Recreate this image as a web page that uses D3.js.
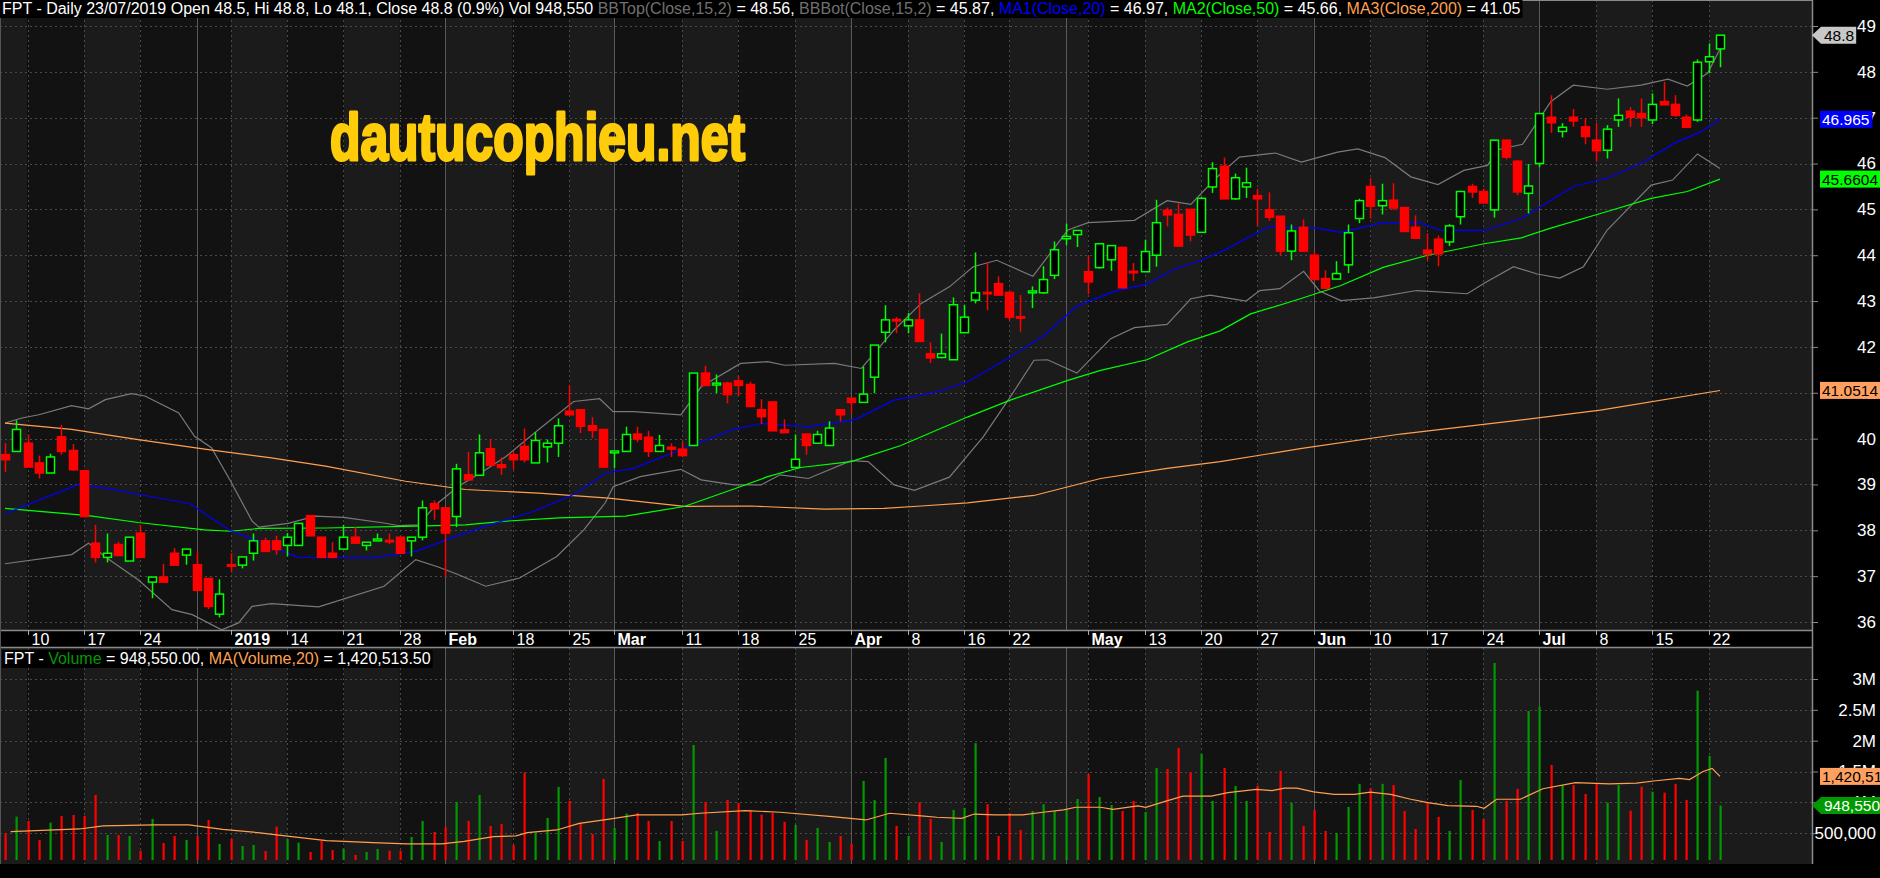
<!DOCTYPE html>
<html>
<head>
<meta charset="utf-8">
<script src="https://cdn.jsdelivr.net/npm/d3@7"></script>
<style>
  html, body { margin: 0; padding: 0; background: #000; }
  svg { display: block; }
  text { font-family: "Liberation Sans Narrow", "Arial Narrow", "Liberation Sans", sans-serif; }
</style>
</head>
<body>
<svg id="chart" width="1880" height="878"></svg>
<script>
// OHLC, one entry per trading day (Dec 2018 - 23 Jul 2019)
const opens = [39.65,39.72,39.9,39.47,39.25,40.04,39.74,39.3,37.72,37.41,37.69,37.33,37.94,36.87,36.98,37.5,37.46,37.25,36.95,36.17,
  37.25,37.24,37.5,37.77,37.77,37.67,37.67,38.32,37.85,37.5,37.59,37.85,37.67,37.77,37.78,37.85,37.77,37.85,38.58,38.49,
  38.3,39.21,39.2,39.78,39.43,39.65,39.83,39.47,39.82,39.9,40.6,40.63,40.28,40.2,39.69,39.72,40.1,40.03,39.72,39.81,
  39.77,39.85,41.43,41.17,41.21,41.26,41.18,40.63,40.8,40.19,39.37,40.1,39.9,39.85,40.63,40.88,40.79,41.34,42.32,42.6,
  42.46,42.59,41.85,41.77,41.72,42.31,43.02,43.19,43.38,43.19,42.66,43.18,43.18,43.56,44.36,44.45,43.64,43.73,43.9,44.17,
  43.65,43.64,44.0,44.98,44.89,45.0,44.5,45.49,45.94,45.23,45.49,45.3,44.99,44.85,44.09,44.61,44.0,43.49,43.48,43.79,
  44.8,45.5,45.08,45.2,45.04,44.61,44.11,44.35,44.29,44.84,45.5,45.39,44.99,46.51,46.05,45.35,46.0,47.01,46.7,47.01,
  46.8,46.51,46.29,46.95,47.14,47.09,46.95,47.35,47.29,47.01,46.95,48.22,48.5]
const highs = [39.9,40.4,40.09,39.63,39.67,40.3,39.88,39.3,38.12,37.93,37.75,37.85,38.12,36.98,37.27,37.61,37.59,37.54,36.95,36.93,
  37.5,37.42,37.93,37.84,37.88,37.94,38.15,38.32,37.85,37.74,38.12,38.07,37.74,37.93,37.93,37.85,37.85,38.65,38.65,38.49,
  39.45,39.71,40.09,39.99,39.59,39.72,40.22,40.14,39.98,40.44,41.16,40.63,40.47,40.2,39.73,40.26,40.26,40.17,40.08,39.9,
  39.93,41.43,41.59,41.4,41.24,41.37,41.24,40.86,40.8,40.42,40.09,40.1,40.17,40.38,40.63,40.88,41.57,42.04,42.91,42.65,
  42.74,43.17,42.1,42.29,43.08,42.92,44.06,43.85,43.54,43.19,43.13,43.32,43.76,44.3,44.69,44.54,43.99,44.25,44.21,44.19,
  43.83,44.34,45.21,45.04,45.13,45.0,45.27,46.03,46.13,45.78,45.91,45.45,45.37,44.85,44.67,44.78,44.08,43.67,43.87,44.67,
  45.23,45.68,45.56,45.57,45.05,44.87,44.48,44.43,44.68,45.39,45.56,45.45,46.52,46.51,46.07,45.99,47.09,47.49,46.88,47.19,
  46.99,46.89,46.84,47.42,47.23,47.42,47.53,47.78,47.49,47.07,48.27,48.62,48.8]
const lows = [39.27,39.72,39.38,39.13,39.25,39.65,39.3,38.3,37.3,37.3,37.45,37.33,37.41,36.52,36.87,37.24,37.25,36.69,36.28,36.1,
  37.08,37.17,37.34,37.54,37.47,37.43,37.67,37.88,37.41,37.41,37.59,37.72,37.56,37.77,37.7,37.5,37.43,37.78,38.23,36.99,
  38.07,39.1,39.2,39.42,39.21,39.32,39.48,39.47,39.48,39.6,40.52,40.12,40.01,39.38,39.36,39.72,39.92,39.6,39.72,39.6,
  39.6,39.85,41.16,40.99,40.77,40.93,40.7,40.32,40.17,40.13,39.37,39.65,39.9,39.85,40.37,40.55,40.79,40.99,42.1,42.3,
  42.3,42.12,41.65,41.75,41.72,42.31,42.95,42.8,43.13,42.58,42.33,42.85,43.16,43.48,44.22,44.18,43.15,43.71,43.66,43.29,
  43.44,43.64,43.75,44.63,44.2,44.3,44.5,45.36,45.23,45.21,45.25,44.65,44.75,44.0,43.89,44.09,43.47,43.27,43.48,43.61,
  44.7,44.8,44.89,44.99,44.5,44.37,43.89,43.76,44.2,44.67,45.25,45.14,44.82,46.09,45.31,44.91,45.92,46.67,46.57,46.8,
  46.42,46.06,46.11,46.8,46.8,46.8,46.86,47.27,47.02,46.79,46.91,47.97,48.1]
const closes = [39.54,40.2,39.38,39.25,39.6,39.72,39.32,38.3,37.41,37.5,37.45,37.85,37.41,36.98,36.87,37.24,37.59,36.69,36.34,36.61,
  37.24,37.42,37.77,37.54,37.58,37.85,38.15,37.88,37.41,37.41,37.85,37.72,37.74,37.81,37.76,37.5,37.85,38.49,38.47,37.94,
  39.34,39.1,39.69,39.42,39.37,39.54,39.54,39.96,39.9,40.28,40.52,40.27,40.18,39.38,39.73,40.09,39.99,39.72,39.85,39.77,
  39.63,41.43,41.16,41.21,40.96,41.16,40.7,40.48,40.17,40.13,39.55,39.85,40.09,40.23,40.52,40.79,40.97,42.04,42.59,42.58,
  42.59,42.12,41.76,41.85,42.92,42.65,43.18,43.17,43.13,42.65,42.64,43.22,43.47,44.12,44.41,44.54,43.42,44.25,44.21,43.29,
  43.63,44.08,44.71,44.88,44.2,44.44,45.24,45.89,45.23,45.69,45.58,45.23,44.83,44.09,44.53,44.09,43.47,43.28,43.6,44.49,
  45.19,45.07,45.19,45.03,44.52,44.37,44.03,44.03,44.64,45.39,45.38,45.14,46.51,46.14,45.38,45.51,47.09,46.89,46.79,46.93,
  46.59,46.28,46.75,47.05,47.01,47.0,47.29,47.28,47.05,46.79,48.21,48.33,48.8]
// volume, millions of shares
const volumes = [0.497,0.768,0.698,0.39,0.671,0.779,0.795,0.779,1.12,0.47,0.47,0.455,0.216,0.73,0.341,0.455,0.39,0.455,0.714,0.325,
  0.406,0.292,0.308,0.211,0.606,0.406,0.346,0.195,0.373,0.227,0.249,0.146,0.195,0.244,0.216,0.216,0.438,0.698,0.52,0.595,
  1.006,0.698,1.12,0.617,0.649,0.308,1.482,0.509,0.747,1.25,1.023,0.666,0.487,1.38,0.584,0.817,0.828,0.698,0.373,0.698,
  0.373,1.93,1.006,0.536,1.039,0.99,0.877,0.801,0.828,0.682,0.633,0.39,0.584,0.357,0.455,0.325,1.347,1.039,1.72,0.617,
  0.455,1.0,0.73,0.357,0.877,0.91,1.96,0.97,0.455,0.828,0.552,0.86,0.97,0.86,0.887,1.055,1.46,1.087,0.957,0.86,
  1.023,0.844,1.558,1.54,1.88,1.49,1.786,1.023,1.558,1.266,1.023,1.266,0.52,1.51,0.99,0.617,0.877,0.536,0.504,0.926,
  1.3,1.23,1.3,1.28,0.86,0.568,1.006,0.763,0.536,1.36,0.877,0.73,3.26,1.023,1.217,2.48,2.55,1.607,1.28,1.28,
  1.136,1.31,0.995,1.28,0.866,1.254,1.173,1.157,1.3,1.04,2.81,1.753,0.949]

// indicator lines read at sample bars: [bar, value]
const ma20 = [[0,38.36],[6.5,39.0],[9,38.92],[12.4,38.76],[16.4,38.58],[20,37.99],[22.5,37.76],[26,37.41],[32.5,37.4],[36.4,37.54],
  [40.2,37.89],[42.6,38.09],[46.8,38.41],[50.4,38.78],[53.3,39.25],[55.7,39.35],[60.2,39.79],[64.6,40.2],[67,40.33],[71.2,40.26],
  [75.3,40.41],[78.8,40.84],[81.2,40.95],[83,41.05],[85.3,41.24],[89.1,41.78],[92.1,42.25],[95,42.89],[98.3,43.21],[101.2,43.37],
  [103.6,43.69],[106,43.89],[108,44.1],[111.9,44.61],[116.3,44.59],[118.4,44.5],[121.9,44.7],[125.2,44.72],[127.3,44.54],
  [131.1,44.54],[134.4,44.8],[137,45.2],[139.1,45.51],[142,45.68],[145,46.0],[148,46.45],[150.3,46.69],[152,46.965]]
const ma50 = [[0,38.48],[7.4,38.32],[11.8,38.17],[17.7,38.01],[20,37.98],[22.5,38.04],[28.4,38.05],[36.4,38.09],[40.8,38.12],
  [44.4,38.2],[49.1,38.27],[55,38.31],[60.2,38.52],[64.6,38.9],[67.6,39.17],[70.5,39.37],[75,39.5],[79.4,39.85],[85.3,40.47],
  [89.1,40.84],[94.2,41.27],[97.1,41.49],[101.2,41.72],[104.8,42.11],[107.7,42.35],[110.4,42.72],[114.8,43.05],[118.4,43.34],
  [122.2,43.74],[126.1,44.0],[131.1,44.25],[134.4,44.38],[137,44.59],[141.4,44.91],[145.9,45.24],[149.1,45.39],[152,45.66]]
const ma200 = [[0,40.34],[5.9,40.2],[11.8,39.98],[17.7,39.77],[23.6,39.58],[28.4,39.4],[35.5,39.07],[40.8,38.89],[47.3,38.81],
  [53.5,38.7],[60.2,38.52],[66.1,38.53],[72.6,38.46],[77.9,38.48],[81.2,38.53],[85.3,38.6],[91.2,38.76],[97.1,39.13],
  [103,39.35],[107.7,39.5],[114.8,39.78],[123.7,40.1],[133.5,40.38],[141.4,40.62],[152,41.05]]
const bbTop = [[0,40.34],[1.5,40.45],[3,40.52],[5.9,40.72],[7.4,40.65],[8.9,40.85],[11.2,40.98],[12.4,40.93],[15.4,40.56],
  [16.8,40.05],[18.3,39.8],[20,39.07],[21.9,38.2],[22.5,38.07],[25.1,38.15],[27.5,38.31],[30,38.28],[33.6,38.16],[34.9,38.1],
  [36.6,38.12],[38.4,38.6],[40.2,38.96],[42.6,39.32],[44.4,39.61],[47.3,40.2],[50.4,40.81],[52.7,40.87],[53.9,40.59],
  [55.7,40.59],[59.9,40.52],[61.7,41.13],[65.2,41.64],[67.6,41.68],[69.1,41.6],[73.5,41.64],[75.9,41.53],[78.8,42.37],
  [81.2,42.95],[83.7,43.31],[85.8,43.75],[87.9,43.89],[91.1,43.54],[94.2,44.55],[96,44.71],[100.1,44.76],[103,45.19],
  [105.1,45.11],[107.4,45.7],[109.4,46.14],[112.6,46.23],[114.9,46.03],[118.1,46.25],[119.9,46.32],[122.3,46.13],
  [124.6,45.71],[127,45.54],[129.3,45.85],[131.4,45.96],[132.3,46.3],[134.5,46.42],[137,47.35],[139,47.71],[142,47.62],
  [145,47.71],[147.4,47.84],[149.1,47.69],[150.9,47.97],[152,48.5]]
const bbBot = [[0,37.27],[5.9,37.47],[7.4,37.72],[8.9,37.42],[11.8,36.92],[14.8,36.27],[16.6,36.16],[19.2,35.83],[20.7,35.98],
  [21.9,36.34],[23.6,36.4],[27.8,36.33],[33.6,36.78],[36.4,37.36],[38.4,37.2],[40.2,37.03],[42.6,36.78],[45.6,36.96],
  [48.9,37.43],[51.3,38.01],[53.2,38.6],[53.9,38.95],[56.3,39.17],[59.9,39.33],[61.7,39.1],[64.6,38.99],[67,38.99],
  [68.7,39.21],[71.2,39.13],[75,39.52],[76.5,39.5],[78.8,38.99],[80.6,38.87],[83.7,39.16],[86.7,40.04],[89.1,40.91],
  [91.2,41.71],[92.4,41.72],[95,41.43],[98,42.18],[100.1,42.42],[103,42.49],[105.1,43.05],[106.8,43.13],[110,43.0],
  [111.2,43.23],[113,43.27],[115.1,43.65],[116.5,43.22],[118.4,43.01],[121.3,43.07],[125.1,43.23],[129.6,43.16],
  [131.1,43.39],[133.7,43.75],[135.8,43.59],[137.8,43.5],[139.9,43.75],[142,44.55],[145.9,45.53],[147.8,45.64],
  [150,46.21],[152,45.89]]
const volMa = [[0.5,0.525],[6.6,0.568],[8.7,0.617],[13.2,0.633],[16.3,0.633],[19.3,0.563],[22.4,0.509],[25.4,0.444],
  [28.5,0.379],[32.6,0.346],[35.6,0.325],[38.7,0.325],[40.7,0.368],[43.3,0.444],[45.3,0.455],[46.3,0.509],[48.9,0.552],
  [50.9,0.66],[53.4,0.725],[56,0.796],[60,0.796],[61.6,0.823],[65.6,0.866],[68.7,0.839],[73.3,0.769],[76.3,0.714],
  [78.4,0.823],[81.2,0.78],[82.6,0.758],[84.8,0.74],[85.9,0.81],[87.7,0.796],[90.2,0.796],[92,0.839],[93.8,0.877],
  [94.9,0.92],[97.1,0.92],[98.2,0.887],[100.4,0.942],[101.1,0.92],[102.9,1.02],[104.4,1.1],[106.9,1.1],[108.4,1.157],
  [110.9,1.21],[112.3,1.19],[113.4,1.23],[114.5,1.23],[116,1.17],[117.8,1.13],[119.6,1.13],[121,1.165],[122.8,1.13],
  [124.6,1.05],[126.1,0.996],[127.9,0.947],[130.4,0.936],[131.1,0.904],[132.2,1.05],[134.3,1.05],[136.3,1.22],
  [139.2,1.32],[142.2,1.3],[144.6,1.31],[146.3,1.35],[148.4,1.39],[149.3,1.37],[150.5,1.5],[151.3,1.55],[152,1.42]]

// date axis: label, bar index, bold for month names
const dateTicks = [['10',2],['17',7],['24',12],['2019',20,1],['14',25],['21',30],['28',35],['Feb',39,1],['18',45],['25',50],
  ['Mar',54,1],['11',60],['18',65],['25',70],['Apr',75,1],['8',80],['16',85],['22',89],['May',96,1],['13',101],['20',106],
  ['27',111],['Jun',116,1],['10',121],['17',126],['24',131],['Jul',136,1],['8',141],['15',146],['22',151]]
const monthStarts = [17, 39, 54, 75, 94, 116, 136]
const priceTicks = [36,37,38,39,40,41,42,43,44,45,46,47,48,49]
const volTicks = [[0.5,'500,000'],[1,'1M'],[1.5,'1.5M'],[2,'2M'],[2.5,'2.5M'],[3,'3M']]

const W = 1880, PR = 1812
const svg = d3.select('#chart')
const x = d3.scaleLinear().domain([0, 152]).range([5, 1720])
const y = d3.scaleLinear().domain([36, 49]).range([622, 26])
const yv = d3.scaleLinear().domain([0, 3]).range([864, 679])
const PT = 0, PB = 630, VT = 648, VB = 864

svg.append('rect').attr('width', W).attr('height', 878).attr('fill', '#000')

// weekly shaded bands in both panels
const edges = [0].concat(dateTicks.map(d => x(d[1]))).concat([PR])
const bands = svg.append('g')
for (let k = 0; k < edges.length - 1; k++) {
    const fill = (k % 2 === 0) ? '#1b1b1b' : '#121212'
    bands.append('rect').attr('x', edges[k]).attr('width', edges[k + 1] - edges[k])
        .attr('y', PT).attr('height', PB - PT).attr('fill', fill)
    bands.append('rect').attr('x', edges[k]).attr('width', edges[k + 1] - edges[k])
        .attr('y', VT).attr('height', VB - VT).attr('fill', fill)
}

// grid
const grid = svg.append('g').attr('stroke-width', 1)
grid.selectAll('.hp').data(priceTicks).enter().append('line')
    .attr('x1', 0).attr('x2', PR).attr('y1', d => Math.round(y(d)) + 0.5).attr('y2', d => Math.round(y(d)) + 0.5)
    .attr('stroke', '#4a4a4a').attr('stroke-dasharray', '2,3')
grid.selectAll('.hv').data(volTicks).enter().append('line')
    .attr('x1', 0).attr('x2', PR).attr('y1', d => Math.round(yv(d[0])) + 0.5).attr('y2', d => Math.round(yv(d[0])) + 0.5)
    .attr('stroke', '#4a4a4a').attr('stroke-dasharray', '2,3')
dateTicks.forEach(d => {
    const xx = Math.round(x(d[1])) + 0.5
    ;[[PT, PB], [VT, VB]].forEach(([a, b]) => grid.append('line').attr('x1', xx).attr('x2', xx).attr('y1', a).attr('y2', b)
        .attr('stroke', '#4a4a4a').attr('stroke-dasharray', '2,3'))
})
monthStarts.forEach(i => {
    const xx = Math.round(x(i)) + 0.5
    ;[[PT, PB], [VT, VB]].forEach(([a, b]) => grid.append('line').attr('x1', xx).attr('x2', xx).attr('y1', a).attr('y2', b)
        .attr('stroke', '#5a5a5a'))
})

// watermark
svg.append('text').attr('x', 330).attr('y', 160).attr('fill', '#ffcc0a')
    .attr('stroke', '#ffcc0a').attr('stroke-width', 3).attr('stroke-linejoin', 'round')
    .attr('font-size', 66).attr('font-weight', 'bold').attr('textLength', 415)
    .attr('lengthAdjust', 'spacingAndGlyphs').text('dautucophieu.net')

// indicator lines
const line = d3.line().x(d => x(d[0])).y(d => y(d[1]))
const lines = svg.append('g').attr('fill', 'none').attr('stroke-width', 1.2)
lines.append('path').attr('d', line(bbTop)).attr('stroke', '#7a7a7a')
lines.append('path').attr('d', line(bbBot)).attr('stroke', '#7a7a7a')
lines.append('path').attr('d', line(ma200)).attr('stroke', '#ffa050')
lines.append('path').attr('d', line(ma50)).attr('stroke', '#00ff00')
lines.append('path').attr('d', line(ma20)).attr('stroke', '#0000ff')

// candles
const bars = d3.range(closes.length)
const up = i => closes[i] >= opens[i]
const cg = svg.append('g').selectAll('g').data(bars).enter().append('g')
cg.append('line').attr('x1', i => Math.round(x(i)) + 0.5).attr('x2', i => Math.round(x(i)) + 0.5)
    .attr('y1', i => y(highs[i])).attr('y2', i => y(lows[i]))
    .attr('stroke', i => up(i) ? '#00ff00' : '#ff0000').attr('stroke-width', 1.5)
cg.append('rect')
    .attr('x', i => Math.round(x(i)) - 3.5)
    .attr('width', 8)
    .attr('y', i => y(Math.max(opens[i], closes[i])))
    .attr('height', i => Math.max(1.5, y(Math.min(opens[i], closes[i])) - y(Math.max(opens[i], closes[i]))))
    .attr('fill', i => up(i) ? '#000' : '#ff0000')
    .attr('stroke', i => up(i) ? '#00ff00' : '#ff0000').attr('stroke-width', 1.5)

// volume bars
svg.append('g').selectAll('rect').data(bars).enter().append('rect')
    .attr('x', i => Math.round(x(i)) - 0.5).attr('width', 2.2)
    .attr('y', i => yv(volumes[i])).attr('height', i => VB - 4 - yv(volumes[i]))
    .attr('fill', i => up(i) ? '#009a00' : '#ff0000')
svg.append('path').attr('d', d3.line().x(d => x(d[0])).y(d => yv(d[1]))(volMa))
    .attr('fill', 'none').attr('stroke', '#ffa050').attr('stroke-width', 1.2)

// date axis band
svg.append('rect').attr('x', 0).attr('y', PB).attr('width', PR).attr('height', VT - PB).attr('fill', '#000')
svg.append('line').attr('x1', 0).attr('x2', PR).attr('y1', PB + 0.5).attr('y2', PB + 0.5).attr('stroke', '#8a8a8a').attr('stroke-width', 1.5)
svg.append('line').attr('x1', 0).attr('x2', PR).attr('y1', VT - 0.5).attr('y2', VT - 0.5).attr('stroke', '#8a8a8a').attr('stroke-width', 1.5)
const dax = svg.append('g')
dateTicks.forEach(d => {
    const xx = Math.round(x(d[1])) + 0.5
    dax.append('line').attr('x1', xx).attr('x2', xx).attr('y1', PB).attr('y2', PB + 5).attr('stroke', '#aaa')
    dax.append('text').attr('x', xx + 3).attr('y', PB + 15).attr('fill', '#fff').attr('font-size', 16)
        .attr('font-weight', d[2] ? 'bold' : 'normal').text(d[0])
})

// right border and axes
svg.append('line').attr('x1', PR + 0.5).attr('x2', PR + 0.5).attr('y1', 0).attr('y2', VB).attr('stroke', '#8a8a8a').attr('stroke-width', 1.5)
svg.append('line').attr('x1', 0).attr('x2', PR).attr('y1', 0.5).attr('y2', 0.5).attr('stroke', '#8a8a8a')
svg.append('line').attr('x1', 0.5).attr('x2', 0.5).attr('y1', 0).attr('y2', VB).attr('stroke', '#555')

const yAxis = d3.axisRight(y).tickValues(priceTicks).tickSize(6).tickFormat(d3.format('d'))
const ya = svg.append('g').attr('transform', `translate(${PR},0)`).call(yAxis)
const vAxis = d3.axisRight(yv).tickValues(volTicks.map(d => d[0])).tickSize(6)
    .tickFormat(v => volTicks.find(d => d[0] === v)[1])
const va = svg.append('g').attr('transform', `translate(${PR},0)`).call(vAxis)
;[ya, va].forEach(g => {
    g.select('.domain').remove()
    g.selectAll('line').attr('stroke', '#8a8a8a')
    g.selectAll('text').attr('x', 64).attr('text-anchor', 'end').attr('fill', '#fff')
        .attr('font-size', 17).attr('font-family', '"Liberation Sans Narrow", "Liberation Sans", sans-serif')
})

// value tags on the axes
function tag(val, scale, label, bg, fg, arrow) {
    const cy = scale(val)
    const g = svg.append('g')
    const t = g.append('text').attr('y', cy + 5.5).attr('font-size', 15.5).attr('fill', fg).text(label)
    if (arrow) {
        t.attr('x', PR + 12)
        const w = t.node().getComputedTextLength() + 5
        g.insert('path', 'text').attr('d', `M${PR},${cy} L${PR + 9},${cy - 8.5} L${PR + 9 + w},${cy - 8.5} L${PR + 9 + w},${cy + 8.5} L${PR + 9},${cy + 8.5} Z`).attr('fill', bg)
    } else {
        t.attr('x', PR + 10)
        const w = t.node().getComputedTextLength() + 5
        g.insert('rect', 'text').attr('x', PR + 8).attr('y', cy - 8.5).attr('width', w).attr('height', 17).attr('fill', bg)
    }
}
tag(closes[closes.length - 1], y, '48.8', '#c8c8c8', '#000', true)
tag(46.965, y, '46.965', '#0000ff', '#fff', false)
tag(45.6604, y, '45.6604', '#00ff00', '#000', false)
tag(41.0514, y, '41.0514', '#ffa060', '#000', false)
tag(1.4205, yv, '1,420,514', '#ffa060', '#000', false)
tag(volumes[volumes.length - 1], yv, '948,550', '#009a00', '#fff', true)

// legends
function legend(xx, yy, parts) {
    const g = svg.append('g')
    const t = g.append('text').attr('x', xx + 2).attr('y', yy + 14).attr('font-size', 16)
    parts.forEach(p => t.append('tspan').attr('fill', p[1]).text(p[0]))
    const w = t.node().getComputedTextLength()
    g.insert('rect', 'text').attr('x', xx).attr('y', yy).attr('width', w + 4).attr('height', 18).attr('fill', '#000')
}
legend(0, 0, [['FPT - Daily 23/07/2019 Open 48.5, Hi 48.8, Lo 48.1, Close 48.8 (0.9%) Vol 948,550 ', '#fff'],
    ['BBTop(Close,15,2)', '#707070'], [' = 48.56, ', '#fff'], ['BBBot(Close,15,2)', '#707070'], [' = 45.87, ', '#fff'],
    ['MA1(Close,20)', '#0000ff'], [' = 46.97, ', '#fff'], ['MA2(Close,50)', '#00ff00'], [' = 45.66, ', '#fff'],
    ['MA3(Close,200)', '#ffa050'], [' = 41.05', '#fff']])
legend(2, 650, [['FPT - ', '#fff'], ['Volume', '#009a00'], [' = 948,550.00, ', '#fff'],
    ['MA(Volume,20)', '#ffa050'], [' = 1,420,513.50', '#fff']])
</script>
</body>
</html>
